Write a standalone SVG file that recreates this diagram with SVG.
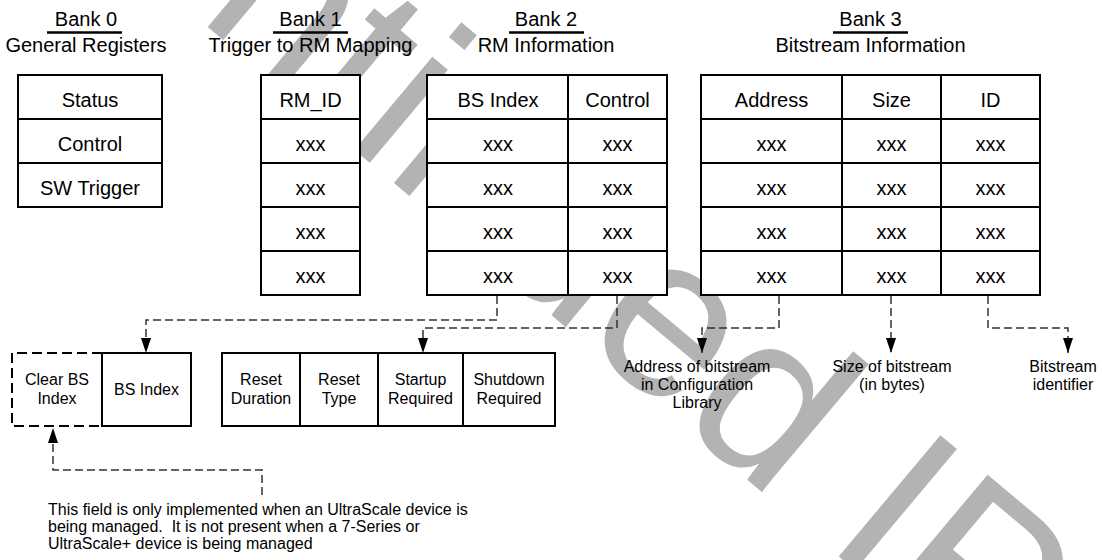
<svg xmlns="http://www.w3.org/2000/svg" width="1102" height="560" viewBox="0 0 1102 560">
<defs>
<style>
text{font-family:"Liberation Sans",Arial,sans-serif;fill:#000}
.hd{font-size:20px;text-anchor:middle}
.c{font-size:20px;text-anchor:middle}
.s{font-size:16px;text-anchor:middle}
.n{font-size:16px;white-space:pre}
.box{fill:#fff;stroke:#000;stroke-width:2}
.ln{stroke:#000;stroke-width:2;fill:none}
.ul{stroke:#000;stroke-width:2.5}
.dash{fill:none;stroke:#333;stroke-width:1.5;stroke-dasharray:8 4}
.wm{font-size:230px;fill:#b3b3b3;font-family:"Liberation Sans",Arial,sans-serif}
</style>
<marker id="ah" viewBox="0 0 15 10" refX="15" refY="5" markerWidth="15" markerHeight="10" markerUnits="userSpaceOnUse" orient="auto">
<path d="M0,0 L15,5 L0,10 Z" fill="#000"/>
</marker>
</defs>
<rect width="1102" height="560" fill="#fff"/>
<g id="watermark">
<text class="wm" transform="translate(-245,-353) rotate(40)">Discontinued IP</text>
</g>

<g id="bank0">
<text class="hd" x="86" y="26">Bank 0</text>
<line class="ul" x1="47" y1="32.5" x2="122" y2="32.5"/>
<text class="hd" x="86" y="52">General Registers</text>
<rect class="box" x="18" y="75" width="144" height="132"/>
<line class="ln" x1="18" y1="119" x2="162" y2="119"/>
<line class="ln" x1="18" y1="163" x2="162" y2="163"/>
<text class="c" x="90" y="107">Status</text>
<text class="c" x="90" y="151">Control</text>
<text class="c" x="90" y="195">SW Trigger</text>
</g>

<g id="bank1">
<text class="hd" x="310.5" y="26">Bank 1</text>
<line class="ul" x1="273" y1="32.5" x2="348" y2="32.5"/>
<text class="hd" x="310.5" y="52">Trigger to RM Mapping</text>
<rect class="box" x="261" y="75" width="99" height="220"/>
<path class="ln" d="M261,119H360M261,163H360M261,207H360M261,251H360"/>
<text class="c" x="310.5" y="107">RM_ID</text>
<text class="c" x="310.5" y="151">xxx</text>
<text class="c" x="310.5" y="195">xxx</text>
<text class="c" x="310.5" y="239">xxx</text>
<text class="c" x="310.5" y="283">xxx</text>
</g>

<g id="bank2">
<text class="hd" x="546" y="26">Bank 2</text>
<line class="ul" x1="509" y1="32.5" x2="584" y2="32.5"/>
<text class="hd" x="546" y="52">RM Information</text>
<rect class="box" x="427" y="75" width="240" height="220"/>
<path class="ln" d="M427,119H667M427,163H667M427,207H667M427,251H667M568,75V295"/>
<text class="c" x="498" y="107">BS Index</text>
<text class="c" x="617.5" y="107">Control</text>
<text class="c" x="498" y="151">xxx</text>
<text class="c" x="617.5" y="151">xxx</text>
<text class="c" x="498" y="195">xxx</text>
<text class="c" x="617.5" y="195">xxx</text>
<text class="c" x="498" y="239">xxx</text>
<text class="c" x="617.5" y="239">xxx</text>
<text class="c" x="498" y="283">xxx</text>
<text class="c" x="617.5" y="283">xxx</text>
</g>

<g id="bank3">
<text class="hd" x="870.5" y="26">Bank 3</text>
<line class="ul" x1="833" y1="32.5" x2="908" y2="32.5"/>
<text class="hd" x="870.5" y="52">Bitstream Information</text>
<rect class="box" x="701" y="75" width="339" height="220"/>
<path class="ln" d="M701,119H1040M701,163H1040M701,207H1040M701,251H1040M842,75V295M941,75V295"/>
<text class="c" x="771.5" y="107">Address</text>
<text class="c" x="891.5" y="107">Size</text>
<text class="c" x="990.5" y="107">ID</text>
<text class="c" x="771.5" y="151">xxx</text>
<text class="c" x="891.5" y="151">xxx</text>
<text class="c" x="990.5" y="151">xxx</text>
<text class="c" x="771.5" y="195">xxx</text>
<text class="c" x="891.5" y="195">xxx</text>
<text class="c" x="990.5" y="195">xxx</text>
<text class="c" x="771.5" y="239">xxx</text>
<text class="c" x="891.5" y="239">xxx</text>
<text class="c" x="990.5" y="239">xxx</text>
<text class="c" x="771.5" y="283">xxx</text>
<text class="c" x="891.5" y="283">xxx</text>
<text class="c" x="990.5" y="283">xxx</text>
</g>

<g id="bsindex-field">
<path class="dash" d="M102,353H12V426H102" style="stroke:#000;stroke-width:2;stroke-dasharray:10 5"/>
<rect class="box" x="102" y="353" width="89" height="73"/>
<text class="s" x="57" y="385">Clear BS</text>
<text class="s" x="57" y="404">Index</text>
<text class="s" x="146.5" y="395">BS Index</text>
</g>

<g id="control-field">
<rect class="box" x="222" y="353" width="333" height="73"/>
<path class="ln" d="M300,353V426M378,353V426M463,353V426"/>
<text class="s" x="261" y="385">Reset</text>
<text class="s" x="261" y="404">Duration</text>
<text class="s" x="339" y="385">Reset</text>
<text class="s" x="339" y="404">Type</text>
<text class="s" x="420.5" y="385">Startup</text>
<text class="s" x="420.5" y="404">Required</text>
<text class="s" x="509" y="385">Shutdown</text>
<text class="s" x="509" y="404">Required</text>
</g>

<g id="address-label">
<text class="s" x="697" y="372">Address of bitstream</text>
<text class="s" x="697" y="390">in Configuration</text>
<text class="s" x="697" y="408">Library</text>
</g>
<g id="size-label">
<text class="s" x="892" y="372">Size of bitstream</text>
<text class="s" x="892" y="390">(in bytes)</text>
</g>
<g id="id-label">
<text class="s" x="1063" y="372">Bitstream</text>
<text class="s" x="1063" y="390">identifier</text>
</g>
<g id="note">
<text class="n" x="48" y="515">This field is only implemented when an UltraScale device is</text>
<text class="n" x="48" y="532">being managed.  It is not present when a 7-Series or</text>
<text class="n" x="48" y="549">UltraScale+ device is being managed</text>
</g>

<g id="connectors">
<path class="dash" d="M497,296V320H146V353" marker-end="url(#ah)"/>
<path class="dash" d="M617,296V328H423V353" marker-end="url(#ah)"/>
<path class="dash" d="M779,296V328H702V353" marker-end="url(#ah)"/>
<path class="dash" d="M891,296V353" marker-end="url(#ah)"/>
<path class="dash" d="M988,296V328H1068V353" marker-end="url(#ah)"/>
<path class="dash" d="M262,495V470H53V428" marker-end="url(#ah)"/>
</g>
</svg>
